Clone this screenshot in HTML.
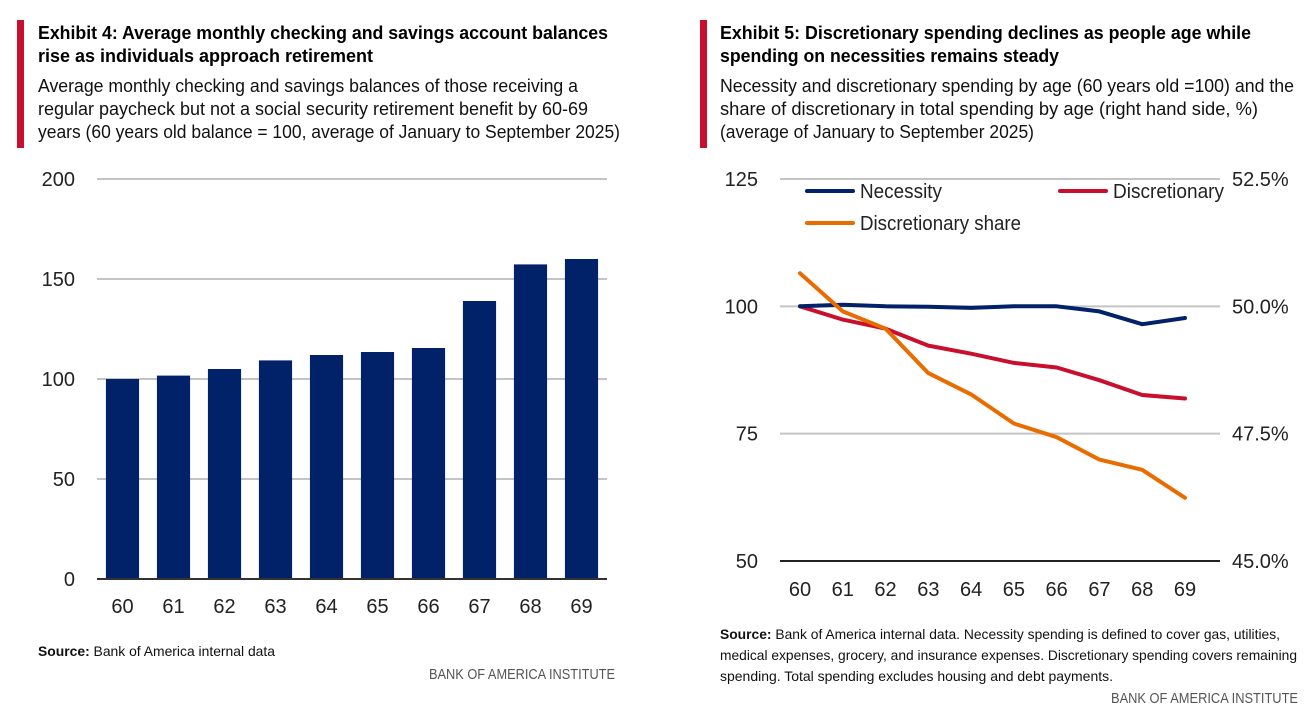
<!DOCTYPE html>
<html><head><meta charset="utf-8"><style>
html,body{margin:0;padding:0;background:#fff;}
svg{display:block;font-family:"Liberation Sans",sans-serif;}
</style></head><body>
<svg id="root" width="1308" height="726" viewBox="0 0 1308 726">
  <!-- Left header -->
  <rect x="17" y="20" width="7" height="128" fill="#c8102e"/>
  <g font-weight="bold" font-size="18" fill="#000">
    <text x="38" y="39" textLength="570" lengthAdjust="spacingAndGlyphs">Exhibit 4: Average monthly checking and savings account balances</text>
    <text x="38" y="62" textLength="335" lengthAdjust="spacingAndGlyphs">rise as individuals approach retirement</text>
  </g>
  <g font-size="18" fill="#111">
    <text x="38" y="92" textLength="540" lengthAdjust="spacingAndGlyphs">Average monthly checking and savings balances of those receiving a</text>
    <text x="38" y="115" textLength="550" lengthAdjust="spacingAndGlyphs">regular paycheck but not a social security retirement benefit by 60-69</text>
    <text x="38" y="138" textLength="582" lengthAdjust="spacingAndGlyphs">years (60 years old balance = 100, average of January to September 2025)</text>
  </g>
  <g id="barChart"></g>
  <text x="38" y="656" font-size="14" fill="#111" textLength="237" lengthAdjust="spacingAndGlyphs"><tspan font-weight="bold">Source:</tspan> Bank of America internal data</text>
  <text x="429" y="679" font-size="15" fill="#555" textLength="186" lengthAdjust="spacingAndGlyphs">BANK OF AMERICA INSTITUTE</text>

  <!-- Right header -->
  <rect x="700" y="20" width="7" height="128" fill="#c8102e"/>
  <g font-weight="bold" font-size="18" fill="#000">
    <text x="720" y="39" textLength="531" lengthAdjust="spacingAndGlyphs">Exhibit 5: Discretionary spending declines as people age while</text>
    <text x="720" y="62" textLength="339" lengthAdjust="spacingAndGlyphs">spending on necessities remains steady</text>
  </g>
  <g font-size="18" fill="#111">
    <text x="720" y="92" textLength="574" lengthAdjust="spacingAndGlyphs">Necessity and discretionary spending by age (60 years old =100) and the</text>
    <text x="720" y="115" textLength="538" lengthAdjust="spacingAndGlyphs">share of discretionary in total spending by age (right hand side, %)</text>
    <text x="720" y="138" textLength="314" lengthAdjust="spacingAndGlyphs">(average of January to September 2025)</text>
  </g>
  <g id="lineChart"></g>
  <g font-size="14" fill="#111">
    <text x="720" y="639" textLength="560" lengthAdjust="spacingAndGlyphs"><tspan font-weight="bold">Source:</tspan> Bank of America internal data. Necessity spending is defined to cover gas, utilities,</text>
    <text x="720" y="660" textLength="577" lengthAdjust="spacingAndGlyphs">medical expenses, grocery, and insurance expenses. Discretionary spending covers remaining</text>
    <text x="720" y="681" textLength="393" lengthAdjust="spacingAndGlyphs">spending. Total spending excludes housing and debt payments.</text>
  </g>
  <text x="1111" y="703" font-size="15" fill="#555" textLength="187" lengthAdjust="spacingAndGlyphs">BANK OF AMERICA INSTITUTE</text>
</svg>
<script>
const barCategories = ["60","61","62","63","64","65","66","67","68","69"];
const barValues = [100, 101.7, 105, 109.3, 112, 113.5, 115.5, 139, 157.3, 160];
const barTicks = [0, 50, 100, 150, 200];

const lineCategories = ["60","61","62","63","64","65","66","67","68","69"];
const necessityValues = [100, 100.3, 100, 99.9, 99.7, 100, 100, 99, 96.5, 97.7];
const discretionaryValues = [100, 97.4, 95.6, 92.3, 90.7, 88.9, 88, 85.5, 82.6, 81.9];
const shareValues = [50.65, 49.9, 49.56, 48.69, 48.27, 47.70, 47.43, 46.99, 46.79, 46.24];
const leftTicks = [50, 75, 100, 125];
const rightTicks = [45.0, 47.5, 50.0, 52.5];

const NS = "http://www.w3.org/2000/svg";
function mk(parent, tag, attrs, txt) {
  const e = document.createElementNS(NS, tag);
  for (const k in attrs) e.setAttribute(k, attrs[k]);
  if (txt !== undefined) e.textContent = txt;
  parent.appendChild(e);
  return e;
}

// ---- Bar chart ----
(function(){
  const g = document.getElementById('barChart');
  const x0 = 97, x1 = 607, yTop = 179, yBot = 579, vMax = 200;
  const y = v => yBot - (v / vMax) * (yBot - yTop);
  const band = (x1 - x0) / barCategories.length;
  barTicks.forEach(t => {
    if (t !== 0) {
      const l = mk(g, 'line', {x1: x0, x2: x1, y1: y(t), y2: y(t), stroke: '#c4c4c4', 'stroke-width': 2});
      
      
    }
    const tx = mk(g, 'text', {x: 75, y: y(t) + 7, 'text-anchor': 'end', 'font-size': 20, fill: '#222'}, String(t));
    
    
  });
  barValues.forEach((v, i) => {
    const cx = x0 + band * (i + 0.5);
    const w = band * 0.65;
    const r = mk(g, 'rect', {x: cx - w / 2, y: y(v), width: w, height: yBot - y(v), fill: '#012169'});
    
    
    const t = mk(g, 'text', {x: cx, y: 613, 'text-anchor': 'middle', 'font-size': 20, fill: '#222'}, barCategories[i]);
    
    
  });
  const ax = mk(g, 'line', {x1: x0, x2: x1, y1: yBot, y2: yBot, stroke: '#333', 'stroke-width': 2});
  
  
})();

// ---- Line chart ----
(function(){
  const g = document.getElementById('lineChart');
  const x0 = 780, x1 = 1220, yTop = 179, yBot = 561;
  const yL = v => yBot - (v - 50) / 75 * (yBot - yTop);
  const yR = v => yBot - (v - 45) / 7.5 * (yBot - yTop);
  const step = (1185 - 800) / (lineCategories.length - 1);
  const xp = i => 800 + i * step;
  leftTicks.forEach(t => {
    const l = mk(g, 'line', {x1: x0, x2: x1, y1: yL(t), y2: yL(t), stroke: t === 50 ? '#222' : '#c4c4c4', 'stroke-width': 2});
    
    
    const tx = mk(g, 'text', {x: 758, y: yL(t) + 7, 'text-anchor': 'end', 'font-size': 20, fill: '#222'}, String(t));
    
    
  });
  rightTicks.forEach(t => {
    const tx = mk(g, 'text', {x: 1232, y: yR(t) + 7, 'font-size': 20, fill: '#222'}, t.toFixed(1) + '%');
    
    
  });
  lineCategories.forEach((c, i) => {
    const tx = mk(g, 'text', {x: xp(i), y: 596, 'text-anchor': 'middle', 'font-size': 20, fill: '#222'}, c);
    
    
  });
  function series(vals, fy, color, name) {
    const d = vals.map((v, i) => (i ? 'L' : 'M') + xp(i).toFixed(1) + ',' + fy(v).toFixed(1)).join(' ');
    const p = mk(g, 'path', {d: d, fill: 'none', stroke: color, 'stroke-width': 4, 'stroke-linejoin': 'round', 'stroke-linecap': 'round'});
    
    
  }
  series(discretionaryValues, yL, '#c8102e', 'discretionary-line');
  series(necessityValues, yL, '#012169', 'necessity-line');
  series(shareValues, yR, '#e86c00', 'discretionary-share-line');
  function legend(x, yy, color, label, w, name) {
    const l = mk(g, 'line', {x1: x, x2: x + 46, y1: yy, y2: yy, stroke: color, 'stroke-width': 4, 'stroke-linecap': 'round'});
    
    
    const t = mk(g, 'text', {x: x + 53, y: yy + 7, 'font-size': 20, fill: '#222', textLength: w, lengthAdjust: 'spacingAndGlyphs'}, label);
    
    
  }
  legend(807, 191, '#012169', 'Necessity', 82, 'legend-necessity');
  legend(1060, 191, '#c8102e', 'Discretionary', 111, 'legend-discretionary');
  legend(807, 223, '#e86c00', 'Discretionary share', 161, 'legend-discretionary-share');
})();
</script>
</body></html>
